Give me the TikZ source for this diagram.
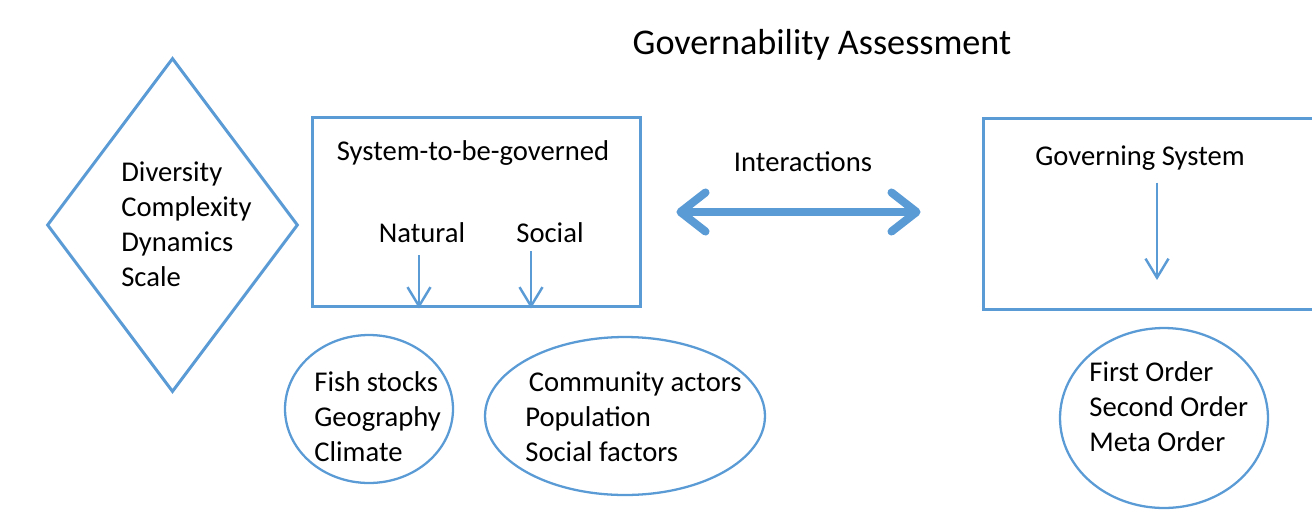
\documentclass[tikz,border=0pt]{standalone}
\usepackage{fontspec}
\setmainfont{Carlito}
\usetikzlibrary{positioning,arrows.meta,shapes.geometric,calc}
\definecolor{gablue}{HTML}{5B9BD5}
\tikzset{
	govmap/.style={x=0.02cm,y=-0.02cm,>={Straight Barb[length=0.38cm,width=0.46cm]}},
	plaintext/.style={inner sep=0pt,font=\fontsize{16.3}{19.9}\selectfont},
	listtext/.style={plaintext,align=left,anchor=west},
	titletext/.style={inner sep=0pt,font=\fontsize{20.6}{24}\selectfont},
	framebox/.style={rectangle,draw=gablue,line width=1.7pt,minimum width=6.58cm,minimum height=3.8cm},
	diabox/.style={diamond,draw=gablue,line width=1.7pt,minimum width=5.02cm,minimum height=6.68cm,inner sep=0pt},
	ringbox/.style={ellipse,draw=gablue,line width=1.3pt,inner sep=0pt},
	downarrow/.style={->,draw=gablue,line width=1.4pt},
	bigarrow/.style={{Straight Barb[round,length=0.5cm,width=0.78cm]}-{Straight Barb[round,length=0.5cm,width=0.78cm]},
		draw=gablue,line width=4.6pt,line cap=round}
}

\begin{document}
\begin{tikzpicture}[govmap]
	\useasboundingbox (0,0) rectangle (1312,518);

	\node[titletext] (title) at (822,45) {Governability Assessment};

	% attributes
	\node[diabox] (dia) at (172.5,225) {};
	\node[listtext] (dialist) at (121,224) {Diversity\\Complexity\\Dynamics\\Scale};

	% system-to-be-governed
	\node[framebox] (sys) at (476.5,212) {};
	\node[plaintext] (systitle) at (473,153) {System-to-be-governed};
	\node[plaintext] (nat) at (422,233) {Natural};
	\node[plaintext] (soc) at (550,233) {Social};

	\node[ringbox,minimum width=3.36cm,minimum height=2.96cm] (fish) at (369,409) {};
	\node[listtext] (fishlist) at (314,417) {Fish stocks\\Geography\\Climate};
	\node[ringbox,minimum width=5.6cm,minimum height=3.16cm] (comm) at (625,416) {};
	\node[listtext] (commlist) at (525,417) {\hspace{2pt}Community actors\\Population\\Social factors};

	% governing system
	\node[framebox,minimum width=6.78cm,minimum height=3.84cm] (gs) at (1152.5,214) {};
	\node[plaintext] (gstitle) at (1140,158) {Governing System};
	\coordinate (gsend) at (1157,280);
	\node[ringbox,minimum width=4.16cm,minimum height=3.6cm] (order) at (1164,418) {};
	\node[listtext] (orderlist) at (1089,407) {First Order\\Second Order\\Meta Order};

	\node[plaintext] (inter) at (803,162) {Interactions};

	\draw[downarrow] ($(nat.south)+(-3,12)$) -- ($(nat.south |- sys.south)+(-3,0)$);
	\draw[downarrow] ($(soc.south)+(-19,8)$) -- ($(soc.south |- sys.south)+(-19,0)$);
	\draw[downarrow] ($(gstitle.south -| gsend)+(0,12)$) -- (gsend);
	\draw[bigarrow,shorten <=0.68cm,shorten >=1.22cm] (sys.east) -- (sys.east -| gs.west);
\end{tikzpicture}
\end{document}
